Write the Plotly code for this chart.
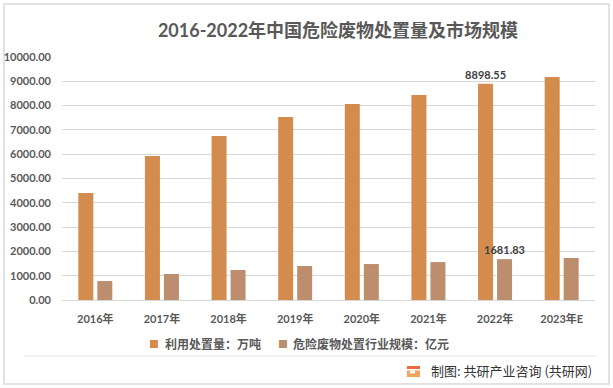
import plotly.graph_objects as go

categories = ["2016年", "2017年", "2018年", "2019年", "2020年", "2021年", "2022年", "2023年E"]
disposal_volume = [4400, 5930, 6750, 7530, 8070, 8440, 8898.55, 9180]
market_size = [780, 1070, 1235, 1400, 1480, 1560, 1681.83, 1730]
series_names = ["利用处置量：万吨", "危险废物处置行业规模：亿元"]
labeled_category = "2022年"
title_text = "2016-2022年中国危险废物处置量及市场规模"
footer_text = "制图: 共研产业咨询 (共研网)"

C_ORANGE = "#D48B4E"
C_BROWN = "#BC8E6D"
GRAY = "#595959"
W, H = 613, 388
L, R, T, B = 62, 18, 57, 88
PW, PH = W - L - R, H - T - B

def px(x):
    return (x - L) / PW

def py(y):
    return (H - B - y) / PH

FONT_NUM = "Lato, 'Noto Sans CJK SC', sans-serif"
FONT_CJK = "'Noto Sans CJK SC', sans-serif"

def labels(vals):
    return [f"<b>{v:.2f}</b>" if c == labeled_category else "" for c, v in zip(categories, vals)]

fig = go.Figure()
for name, vals, col in [(series_names[0], disposal_volume, C_ORANGE), (series_names[1], market_size, C_BROWN)]:
    fig.add_trace(go.Bar(
        x=categories, y=vals, name=name, marker=dict(color=col, line=dict(width=0)),
        text=labels(vals), textposition="outside", constraintext="none", cliponaxis=False,
        textfont=dict(family=FONT_NUM, size=11, color="#404040"), showlegend=False,
    ))

fig.update_layout(
    width=W, height=H, margin=dict(l=L, r=R, t=T, b=B, autoexpand=False),
    paper_bgcolor="white", plot_bgcolor="white",
    barmode="group", bargap=0.43, bargroupgap=0.21,
    title=dict(text=f"<b>{title_text}</b>", x=338 / W, y=1 - 31 / H, xanchor="center", yanchor="middle",
               xref="container", yref="container",
               font=dict(family=FONT_NUM, size=18, color=GRAY)),
    xaxis=dict(showgrid=False, showline=True, linecolor="#d9d9d9", linewidth=1, ticks="", automargin=False,
               tickfont=dict(family=FONT_NUM, size=11, color=GRAY), ticklabelstandoff=9,
               tickprefix="<b>", ticksuffix="</b>"),
    yaxis=dict(range=[0, 10000], dtick=1000, tickformat=".2f", showgrid=True, gridcolor="#d9d9d9",
               gridwidth=1, zeroline=False, showline=False, ticks="", automargin=False,
               tickfont=dict(family=FONT_NUM, size=11, color=GRAY), ticklabelstandoff=10,
               tickprefix="<b>", ticksuffix="</b>"),
)

shapes = [
    # outer border
    dict(type="rect", xref="paper", yref="paper", x0=px(4), x1=px(609), y0=py(384), y1=py(4),
         line=dict(color="#d9d9d9", width=1.5), layer="below"),
    # separator
    dict(type="line", xref="paper", yref="paper", x0=px(24), x1=px(597), y0=py(356), y1=py(356),
         line=dict(color="#e6e6e6", width=1)),
    # logo
    dict(type="rect", xref="paper", yref="paper", x0=px(407), x1=px(420), y0=py(369), y1=py(366),
         line=dict(width=0), fillcolor="#F06A3A"),
    dict(type="rect", xref="paper", yref="paper", x0=px(407), x1=px(420), y0=py(377), y1=py(370.5),
         line=dict(width=0), fillcolor="#F6A35C"),
    dict(type="rect", xref="paper", yref="paper", x0=px(410), x1=px(415), y0=py(373.5), y1=py(370.5),
         line=dict(width=0), fillcolor="white"),
]

annotations = [
    dict(text="■", x=px(154), y=py(343), xref="paper", yref="paper", showarrow=False, xanchor="center",
         yanchor="middle", font=dict(family=FONT_CJK, size=10, color=C_ORANGE)),
    dict(text=f"<b>{series_names[0]}</b>", x=px(163), y=py(343), xref="paper", yref="paper", showarrow=False,
         xanchor="left", yanchor="middle", font=dict(family=FONT_CJK, size=12, color=GRAY)),
    dict(text="■", x=px(283), y=py(343), xref="paper", yref="paper", showarrow=False, xanchor="center",
         yanchor="middle", font=dict(family=FONT_CJK, size=10, color=C_BROWN)),
    dict(text=f"<b>{series_names[1]}</b>", x=px(291), y=py(343), xref="paper", yref="paper", showarrow=False,
         xanchor="left", yanchor="middle", font=dict(family=FONT_CJK, size=12, color=GRAY)),
    dict(text=footer_text, x=px(429), y=py(370), xref="paper", yref="paper", showarrow=False,
         xanchor="left", yanchor="middle", font=dict(family=FONT_CJK, size=13, color="#333333")),
]

fig.update_layout(shapes=shapes, annotations=annotations)
fig.write_html("out.html", config={"displayModeBar": False},
               post_script="document.body.style.margin='0';document.body.style.padding='0';")
